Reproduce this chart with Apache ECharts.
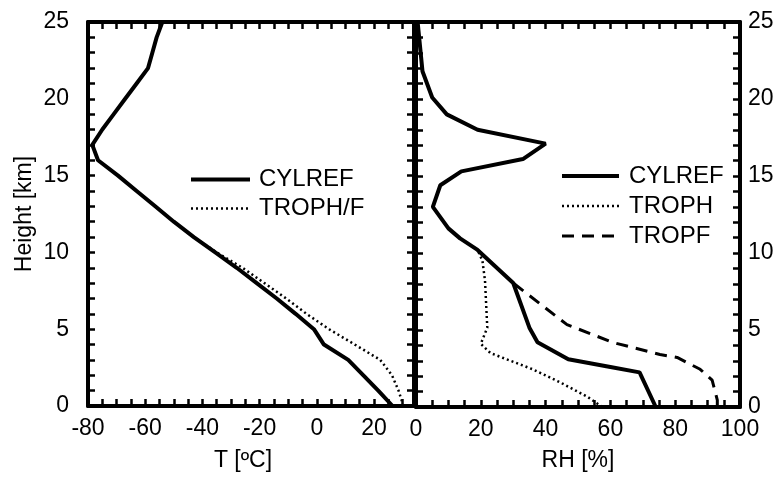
<!DOCTYPE html>
<html>
<head>
<meta charset="utf-8">
<script src="https://cdn.jsdelivr.net/npm/echarts@6/dist/echarts.min.js"></script>
<style>
  html, body { margin: 0; padding: 0; background: #fff; }
  #chart { width: 782px; height: 477px; }
</style>
</head>
<body>
<div id="chart"></div>
<script>
// Temperature profiles (height in km, temperature in °C)
const tempHeights = [0, 1, 2, 3, 4, 5, 6, 7, 8, 9, 10, 11, 12, 13, 14, 15, 16, 17, 18, 19, 20, 21, 22, 23, 24, 25];
const cylrefTemp = [26.5, 21.5, 16.3, 11, 2.5, -1, -7.4, -14, -21, -28, -35.5, -43, -50, -56.5, -63, -69.5, -76.5, -78.5, -75, -71, -67, -63, -59, -57.5, -56, -54];
const trophfTempHeights = [0, 1, 2, 3, 4, 5, 6, 7, 8, 9, 10, 11];
const trophfTemp = [30.3, 28.6, 26.3, 22.2, 13.3, 4.3, -3.6, -10.7, -18.3, -26, -35, -43];

// Relative humidity profiles (height in km, RH in %)
const cylrefRhHeights = [0, 2.25, 2.6, 3.1, 4.2, 5.15, 8.05, 10.2, 10.95, 11.6, 13, 14.4, 15.3, 16.1, 17.1, 18, 19, 20.1, 21.8, 25];
const cylrefRh = [74, 69, 60, 47, 37.5, 35, 30, 19, 13.6, 10, 5.2, 7.5, 14, 33, 40, 19, 9.5, 5, 2, 0.5];
const trophRhHeights = [0, 0.65, 1.6, 2.45, 3.5, 4.1, 5.15, 8.2, 9.5, 10.2];
const trophRh = [57.5, 53, 44.5, 36, 23, 20, 22, 21.3, 20.5, 19];
const tropfRhHeights = [0, 0.45, 1.74, 2.45, 3.22, 3.41, 4.19, 5.35, 8.05];
const tropfRh = [93, 93, 91.4, 87.7, 80.6, 75.3, 60.8, 46.6, 30];

// Labelled tick values
const tempTickLabels = [-80, -60, -40, -20, 0, 20];
const rhTickLabels = [0, 20, 40, 60, 80, 100];
const heightTickLabels = [0, 5, 10, 15, 20, 25];

const FONT = "'Liberation Sans', Arial, Helvetica, sans-serif";

function pairs(xs, hs) {
  return xs.map((v, i) => [v, hs[i]]);
}

// Every side of both panels is a thick frame line with small inward ticks
function frameAxis(extra) {
  return Object.assign({
    type: 'value',
    axisLine: { show: true, onZero: false, lineStyle: { color: '#000', width: 4 } },
    axisTick: { show: true, inside: true, length: 7, lineStyle: { color: '#000', width: 2.5 } },
    splitLine: { show: false },
    axisLabel: { show: false }
  }, extra);
}

function labelled(list, margin) {
  return {
    show: true,
    margin: margin,
    color: '#000',
    fontSize: 23,
    fontFamily: FONT,
    showMaxLabel: true,
    showMinLabel: true,
    formatter: v => (list.includes(Math.round(v * 1000) / 1000) ? String(v) : '')
  };
}

const chart = echarts.init(document.getElementById('chart'), null, { renderer: 'canvas' });

const nameStyle = { color: '#000', fontSize: 23, fontFamily: FONT };

const legendCommon = {
  orient: 'vertical',
  itemHeight: 14, itemGap: 2,
  selectedMode: false,
  itemStyle: { opacity: 0 },
  lineStyle: { width: 'inherit' }
};

chart.setOption({
  animation: false,
  backgroundColor: '#fff',
  grid: [
    { left: 88, top: 22, width: 326, height: 388 },
    { left: 416, top: 22, width: 324, height: 388 }
  ],
  xAxis: [
    frameAxis({ gridIndex: 0, position: 'bottom', min: -80, max: 34, interval: 5,
      axisLabel: labelled(tempTickLabels, 11),
      name: 'T [ºC]', nameLocation: 'middle', nameGap: 43,
      nameTextStyle: Object.assign({ padding: [0, 16, 0, 0] }, nameStyle) }),
    frameAxis({ gridIndex: 0, position: 'top', min: -80, max: 34, interval: 5 }),
    frameAxis({ gridIndex: 1, position: 'bottom', min: 0, max: 100, interval: 5,
      axisLabel: labelled(rhTickLabels, 11),
      name: 'RH [%]', nameLocation: 'middle', nameGap: 42, nameTextStyle: nameStyle }),
    frameAxis({ gridIndex: 1, position: 'top', min: 0, max: 100, interval: 5 })
  ],
  yAxis: [
    frameAxis({ gridIndex: 0, position: 'left', min: 0, max: 25, interval: 1,
      axisLabel: labelled(heightTickLabels, 19),
      name: 'Height [km]', nameLocation: 'middle', nameGap: 52, nameTextStyle: nameStyle }),
    frameAxis({ gridIndex: 0, position: 'right', min: 0, max: 25, interval: 1 }),
    frameAxis({ gridIndex: 1, position: 'left', min: 0, max: 25, interval: 1 }),
    frameAxis({ gridIndex: 1, position: 'right', min: 0, max: 25, interval: 1,
      axisLabel: labelled(heightTickLabels, 8) })
  ],
  legend: [
    Object.assign({
      data: ['CYLREF', 'TROPH/F'],
      left: 184, top: 161,
      itemWidth: 59,
      textStyle: { color: '#000', fontSize: 24, fontFamily: FONT, lineHeight: 27, padding: [0, 0, 0, 4] }
    }, legendCommon),
    Object.assign({
      data: ['CYLREF', 'TROPH', 'TROPF'],
      left: 555, top: 157,
      itemWidth: 57,
      textStyle: { color: '#000', fontSize: 24, fontFamily: FONT, lineHeight: 28, padding: [0, 0, 0, 5] }
    }, legendCommon)
  ],
  series: [
    {
      name: 'TROPH/F', type: 'line', xAxisIndex: 0, yAxisIndex: 0,
      data: pairs(trophfTemp, trophfTempHeights),
      symbol: 'none', z: 2,
      lineStyle: { color: '#000', width: 2.5, type: [2, 3] },
      itemStyle: { color: '#000' }
    },
    {
      name: 'CYLREF', type: 'line', xAxisIndex: 0, yAxisIndex: 0,
      data: pairs(cylrefTemp, tempHeights),
      symbol: 'none', z: 3,
      lineStyle: { color: '#000', width: 4 },
      itemStyle: { color: '#000' }
    },
    {
      name: 'TROPH', type: 'line', xAxisIndex: 2, yAxisIndex: 2,
      data: pairs(trophRh, trophRhHeights),
      symbol: 'none', z: 2,
      lineStyle: { color: '#000', width: 2.5, type: [2, 3] },
      itemStyle: { color: '#000' }
    },
    {
      name: 'TROPF', type: 'line', xAxisIndex: 2, yAxisIndex: 2,
      data: pairs(tropfRh, tropfRhHeights),
      symbol: 'none', z: 2,
      lineStyle: { color: '#000', width: 3, type: [12, 8] },
      itemStyle: { color: '#000' }
    },
    {
      name: 'CYLREF', type: 'line', xAxisIndex: 2, yAxisIndex: 2,
      data: pairs(cylrefRh, cylrefRhHeights),
      symbol: 'none', z: 3,
      lineStyle: { color: '#000', width: 4 },
      itemStyle: { color: '#000' }
    }
  ]
});
</script>
</body>
</html>
